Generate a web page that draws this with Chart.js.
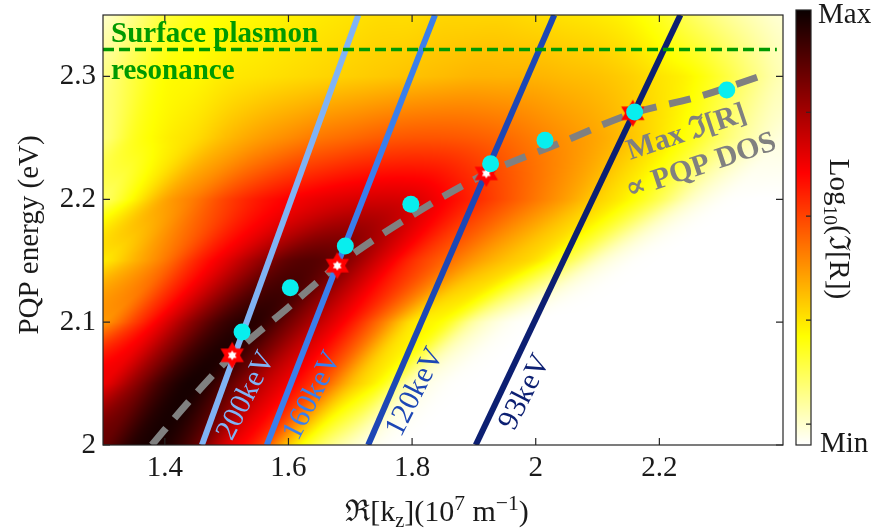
<!DOCTYPE html>
<html>
<head>
<meta charset="utf-8">
<title>PQP dispersion</title>
<script src="https://cdn.jsdelivr.net/npm/chart.js@4.4.1/dist/chart.umd.min.js"></script>
<style>
  html, body { margin: 0; padding: 0; background: #fff; }
</style>
</head>
<body>
<canvas id="dispersion" width="872" height="530"></canvas>
<script>
// axes
const xTicks = [1.4, 1.6, 1.8, 2.0, 2.2];
const yTicks = [2.0, 2.1, 2.2, 2.3];

// electron beam lines (x at 2 eV and at 2.35 eV)
const beamLabels = ['200keV', '160keV', '120keV', '93keV'];
const beamX0 = [1.460, 1.565, 1.729, 1.903];
const beamX1 = [1.713, 1.837, 2.030, 2.234];
const beamLabelX = [1.532, 1.639, 1.805, 1.983];
const beamLabelY = [2.040, 2.040, 2.043, 2.043];
const beamColors = ['#80b3f5', '#3a7fec', '#1d47b5', '#0c1f72'];

// ridge of Im[R] (max PQP DOS)
const ridgeX = [1.379, 1.44, 1.509, 1.60, 1.679, 1.80, 1.92, 2.04, 2.157, 2.26, 2.368];
const ridgeY = [2.000, 2.036, 2.073, 2.112, 2.146, 2.187, 2.221, 2.246, 2.270, 2.283, 2.301];

// computed PQP points
const dosX = [1.525, 1.603, 1.692, 1.798, 1.927, 2.015, 2.160, 2.309];
const dosY = [2.092, 2.128, 2.162, 2.196, 2.229, 2.248, 2.271, 2.289];

// beam / ridge crossings
const crossX = [1.509, 1.679, 1.920, 2.157];
const crossY = [2.073, 2.146, 2.221, 2.270];

const plasmonY = 2.322;

// log10 Im[R] on rows of constant energy, 0 = min, 1 = max
// columns run from 1.30 to 2.40 in steps of 0.05
const heatX0 = 1.3, heatDX = 0.05;
const heatRowY = [2.0, 2.05, 2.1, 2.15, 2.2, 2.25, 2.3, 2.35];
const heatLevels = [
  [0.86, 0.96, 0.97, 0.87, 0.68, 0.56, 0.33, 0.16, 0.06, 0.01, 0, 0, 0, 0, 0, 0, 0, 0, 0, 0, 0, 0, 0],
  [0.65, 0.79, 0.93, 0.98, 0.88, 0.74, 0.64, 0.52, 0.35, 0.24, 0.06, 0.01, 0, 0, 0, 0, 0, 0, 0, 0, 0, 0, 0],
  [0.40, 0.53, 0.67, 0.82, 0.93, 0.95, 0.84, 0.72, 0.60, 0.45, 0.29, 0.24, 0.09, 0.02, 0, 0, 0, 0, 0, 0, 0, 0, 0],
  [0.28, 0.36, 0.45, 0.57, 0.67, 0.78, 0.87, 0.88, 0.80, 0.68, 0.56, 0.48, 0.40, 0.34, 0.29, 0.18, 0.06, 0.01, 0, 0, 0, 0, 0],
  [0.15, 0.26, 0.38, 0.45, 0.53, 0.59, 0.63, 0.66, 0.68, 0.69, 0.68, 0.63, 0.57, 0.51, 0.45, 0.39, 0.32, 0.26, 0.17, 0.06, 0.01, 0, 0],
  [0.13, 0.22, 0.27, 0.30, 0.35, 0.39, 0.42, 0.45, 0.47, 0.49, 0.50, 0.50, 0.49, 0.47, 0.44, 0.41, 0.38, 0.34, 0.29, 0.23, 0.15, 0.08, 0.03],
  [0.12, 0.19, 0.25, 0.26, 0.28, 0.29, 0.30, 0.31, 0.32, 0.33, 0.34, 0.35, 0.36, 0.36, 0.36, 0.35, 0.34, 0.32, 0.29, 0.26, 0.20, 0.13, 0.07],
  [0.05, 0.12, 0.19, 0.23, 0.25, 0.26, 0.27, 0.28, 0.29, 0.30, 0.30, 0.31, 0.31, 0.31, 0.30, 0.29, 0.28, 0.26, 0.22, 0.16, 0.11, 0.07, 0.04]
];
// how far the features drift to the right between neighbouring rows
const heatShift = [0.07, 0.09, 0.12, 0.12, 0.08, 0.03, 0.02];

const colorbarTicks = [0.048, 0.287, 0.526, 0.765];

const SERIF = "'Liberation Serif', 'DejaVu Serif', serif";
const INK = '#1a1a1a';

const clamp = (v, lo, hi) => Math.min(hi, Math.max(lo, v));

// reversed "hot" colormap: 0 -> white, 1 -> black
function hotColor(t) {
  const s = 1 - clamp(t, 0, 1);
  const r = clamp(0.04 + s / 0.375 * 0.96, 0, 1);
  const g = clamp((s - 0.375) / 0.375, 0, 1);
  const b = clamp((s - 0.75) / 0.25, 0, 1);
  return [Math.round(r * 255), Math.round(g * 255), Math.round(b * 255)];
}

function rowLevel(row, xv) {
  const f = (xv - heatX0) / heatDX;
  const n = row.length;
  const i = Math.floor(f);
  if (i < 0) return row[0];
  if (i >= n - 1) return row[n - 1];
  const u = f - i;
  const p0 = row[Math.max(i - 1, 0)], p1 = row[i], p2 = row[i + 1], p3 = row[Math.min(i + 2, n - 1)];
  return 0.5 * (2 * p1 + (p2 - p0) * u + (2 * p0 - 5 * p1 + 4 * p2 - p3) * u * u + (3 * p1 - p0 - 3 * p2 + p3) * u * u * u);
}

function levelAt(xv, yv) {
  let j = 0;
  while (j < heatRowY.length - 2 && yv > heatRowY[j + 1]) j++;
  const f = clamp((yv - heatRowY[j]) / (heatRowY[j + 1] - heatRowY[j]), 0, 1);
  const s = heatShift[j];
  const a = rowLevel(heatLevels[j], xv - f * s);
  const b = rowLevel(heatLevels[j + 1], xv + (1 - f) * s);
  return clamp((1 - f) * a + f * b, 0, 1);
}

// red hexagram with a white core
function makeStar(size) {
  const c = document.createElement('canvas');
  c.width = c.height = size;
  const g = c.getContext('2d');
  const hexagram = (r, color) => {
    g.fillStyle = color;
    for (let k = 0; k < 2; k++) {
      g.beginPath();
      for (let i = 0; i < 3; i++) {
        const a = -Math.PI / 2 + k * Math.PI + i * 2 * Math.PI / 3;
        const px = size / 2 + r * Math.cos(a), py = size / 2 + r * Math.sin(a);
        if (i) g.lineTo(px, py); else g.moveTo(px, py);
      }
      g.closePath();
      g.fill();
    }
  };
  hexagram(size / 2 - 0.5, '#ff0000');
  hexagram(size / 5.6, '#ffffff');
  return c;
}

// text made of runs: [text, baseline shift (em), scale]
function drawRuns(ctx, runs, size, x, y, align) {
  let total = 0;
  const widths = runs.map(([t, , sc]) => {
    ctx.font = `${size * sc}px ${SERIF}`;
    const w = ctx.measureText(t).width;
    total += w;
    return w;
  });
  let cx = align === 'center' ? x - total / 2 : x;
  runs.forEach(([t, dy, sc], i) => {
    ctx.font = `${size * sc}px ${SERIF}`;
    ctx.fillText(t, cx, y + dy * size);
    cx += widths[i];
  });
}

const heatmap = {
  id: 'heatmap',
  beforeDatasetsDraw(chart) {
    const { ctx, chartArea: a, scales: { x, y } } = chart;
    const left = Math.round(a.left), top = Math.round(a.top);
    const w = Math.round(a.right) - left, h = Math.round(a.bottom) - top;
    const img = ctx.createImageData(w, h);
    for (let j = 0; j < h; j++) {
      const yv = y.getValueForPixel(top + j + 0.5);
      for (let i = 0; i < w; i++) {
        const xv = x.getValueForPixel(left + i + 0.5);
        const [r, g, b] = hotColor(levelAt(xv, yv));
        const k = (j * w + i) * 4;
        img.data[k] = r; img.data[k + 1] = g; img.data[k + 2] = b; img.data[k + 3] = 255;
      }
    }
    ctx.putImageData(img, left, top);
  }
};

const decorations = {
  id: 'decorations',
  afterDraw(chart) {
    const { ctx, chartArea: a, scales: { x, y } } = chart;
    ctx.save();

    // frame with inward ticks
    ctx.strokeStyle = '#262626';
    ctx.lineWidth = 1.2;
    ctx.strokeRect(a.left, a.top, a.right - a.left, a.bottom - a.top);
    ctx.beginPath();
    xTicks.forEach(v => {
      const px = x.getPixelForValue(v);
      ctx.moveTo(px, a.bottom); ctx.lineTo(px, a.bottom - 7);
      ctx.moveTo(px, a.top); ctx.lineTo(px, a.top + 7);
    });
    yTicks.forEach(v => {
      const py = y.getPixelForValue(v);
      ctx.moveTo(a.left, py); ctx.lineTo(a.left + 7, py);
      ctx.moveTo(a.right, py); ctx.lineTo(a.right - 7, py);
    });
    ctx.stroke();

    // beam energy labels
    ctx.font = `30px ${SERIF}`;
    ctx.textAlign = 'center';
    ctx.textBaseline = 'middle';
    beamLabels.forEach((lab, i) => {
      ctx.save();
      ctx.translate(x.getPixelForValue(beamLabelX[i]), y.getPixelForValue(beamLabelY[i]));
      ctx.rotate(-63 * Math.PI / 180);
      ctx.fillStyle = beamColors[i];
      ctx.fillText(lab, 0, 0);
      ctx.restore();
    });

    // surface plasmon label
    ctx.textAlign = 'left';
    ctx.textBaseline = 'alphabetic';
    ctx.fillStyle = '#009a00';
    ctx.font = `bold 29px ${SERIF}`;
    ctx.fillText('Surface plasmon', x.getPixelForValue(1.313), y.getPixelForValue(2.3282));
    ctx.fillText('resonance', x.getPixelForValue(1.313), y.getPixelForValue(2.2983));

    // ridge annotation
    ctx.fillStyle = '#808080';
    ctx.font = `bold 30px ${SERIF}`;
    [['Max ℑ[R]', 2.153, 2.232], ['∝ PQP DOS', 2.151, 2.2005]].forEach(([t, xv, yv]) => {
      ctx.save();
      ctx.translate(x.getPixelForValue(xv), y.getPixelForValue(yv));
      ctx.rotate(-18.5 * Math.PI / 180);
      ctx.fillText(t, 0, 0);
      ctx.restore();
    });

    // axis titles
    ctx.fillStyle = INK;
    drawRuns(ctx, [['ℜ[k', 0, 1], ['z', 0.2, 0.68], ['](10', 0, 1], ['7', -0.36, 0.72], [' m', 0, 1], ['−1', -0.36, 0.72], [')', 0, 1]],
      30, (a.left + a.right) / 2 - 6, 521, 'center');
    ctx.save();
    ctx.translate(38, (a.top + a.bottom) / 2 + 5);
    ctx.rotate(-Math.PI / 2);
    ctx.font = `29px ${SERIF}`;
    ctx.textAlign = 'center';
    ctx.fillText('PQP energy (eV)', 0, 0);
    ctx.restore();

    // colorbar
    const cbL = 796, cbR = 811, cbT = 10, cbB = 445;
    for (let py = cbT; py < cbB; py++) {
      const [r, g, b] = hotColor((cbB - py - 0.5) / (cbB - cbT));
      ctx.fillStyle = `rgb(${r},${g},${b})`;
      ctx.fillRect(cbL, py, cbR - cbL, 1);
    }
    ctx.strokeStyle = '#262626';
    ctx.lineWidth = 1.2;
    ctx.strokeRect(cbL, cbT, cbR - cbL, cbB - cbT);
    ctx.beginPath();
    colorbarTicks.forEach(f => {
      const py = cbB - f * (cbB - cbT);
      ctx.moveTo(cbR, py); ctx.lineTo(cbR - 5, py);
    });
    ctx.stroke();

    ctx.fillStyle = INK;
    ctx.font = `29px ${SERIF}`;
    ctx.textAlign = 'left';
    ctx.fillText('Max', 818, 23);
    ctx.fillText('Min', 820, 452);

    ctx.save();
    ctx.translate(830, 229);
    ctx.rotate(Math.PI / 2);
    drawRuns(ctx, [['Log', 0, 1], ['10', 0.2, 0.68], ['(ℑ[R])', 0, 1]], 29, 0, 0, 'center');
    ctx.restore();

    ctx.restore();
  }
};

const pts = (xs, ys) => xs.map((v, i) => ({ x: v, y: ys[i] }));

const beamSets = beamLabels.map((lab, i) => ({
  label: lab,
  data: [{ x: beamX0[i], y: 2.0 }, { x: beamX1[i], y: 2.35 }],
  showLine: true,
  borderColor: beamColors[i],
  borderWidth: 6,
  pointRadius: 0,
  clip: 0
}));

new Chart(document.getElementById('dispersion'), {
  type: 'scatter',
  data: {
    datasets: [
      {
        label: 'PQP',
        data: pts(dosX, dosY),
        pointRadius: 8.5,
        pointBackgroundColor: '#08eeee',
        pointBorderWidth: 0
      },
      {
        label: 'crossing',
        data: pts(crossX, crossY),
        pointStyle: makeStar(28),
        pointRadius: 14
      },
      {
        label: 'Surface plasmon resonance',
        data: [{ x: 1.3, y: plasmonY }, { x: 2.39, y: plasmonY }],
        showLine: true,
        borderColor: '#009a00',
        borderWidth: 3.5,
        borderDash: [11, 5],
        pointRadius: 0,
        clip: 0
      },
      ...beamSets,
      {
        label: 'Max Im R',
        data: pts(ridgeX, ridgeY),
        showLine: true,
        borderColor: '#808080',
        borderWidth: 7,
        borderDash: [22, 13],
        cubicInterpolationMode: 'monotone',
        pointRadius: 0,
        clip: 0
      }
    ]
  },
  options: {
    responsive: false,
    animation: false,
    devicePixelRatio: 1,
    events: [],
    layout: { padding: { top: 12, right: 89, left: 0, bottom: 0 } },
    plugins: { legend: { display: false }, tooltip: { enabled: false } },
    scales: {
      x: {
        type: 'linear',
        min: 1.3,
        max: 2.4,
        grid: { display: false, drawTicks: false },
        border: { display: false },
        afterBuildTicks: s => { s.ticks = xTicks.map(v => ({ value: v })); },
        afterFit: s => { s.height = 85; s.paddingLeft = 0; s.paddingRight = 0; },
        ticks: {
          font: { family: SERIF, size: 29 },
          color: INK,
          padding: 6,
          maxRotation: 0,
          autoSkip: false,
          callback: v => String(+v.toFixed(2))
        }
      },
      y: {
        type: 'linear',
        min: 2.0,
        max: 2.35,
        grid: { display: false, drawTicks: false },
        border: { display: false },
        afterBuildTicks: s => { s.ticks = yTicks.map(v => ({ value: v })); },
        afterFit: s => { s.width = 103; s.paddingTop = 0; s.paddingBottom = 0; },
        ticks: {
          font: { family: SERIF, size: 29 },
          color: INK,
          padding: 7,
          autoSkip: false,
          callback: v => String(+v.toFixed(2))
        }
      }
    }
  },
  plugins: [heatmap, decorations]
});
</script>
</body>
</html>
